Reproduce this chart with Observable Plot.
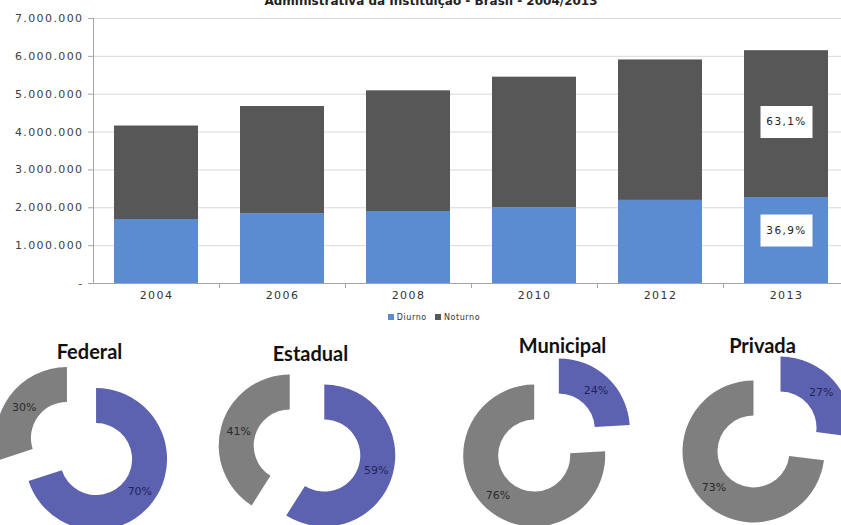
<!DOCTYPE html>
<html><head><meta charset="utf-8">
<script src="https://cdn.jsdelivr.net/npm/d3@7"></script>
<script src="https://cdn.jsdelivr.net/npm/@observablehq/plot@0.6"></script>
<style>
html,body{margin:0;padding:0;background:#fff;overflow:hidden;width:841px;height:525px}
#root{position:relative;width:841px;height:525px;overflow:hidden;background:#fff}
#title{position:absolute;top:-6px;left:0;width:862px;text-align:center;font:bold 12px "DejaVu Sans";color:#222;white-space:nowrap;line-height:14px}
#bars{position:absolute;top:0;left:0;width:849px}
#bars svg{max-width:none !important}
#legend{position:absolute;top:312px;left:0;width:868px;text-align:center;font:8px "DejaVu Sans";color:#333;letter-spacing:0.6px;line-height:12px}
#legend span.sw{display:inline-block;width:6px;height:6px;margin-right:3px;vertical-align:0px}
#legend span.it{margin:0 4px}
#donuts{position:absolute;top:330px;left:0}
</style></head>
<body><div id="root">
<div id="bars"></div>
<div id="title">Administrativa da Instituição - Brasil - 2004/2013</div>
<div id="legend"></div>
<div id="donuts"></div>
</div>
<script>
// ---- data ----
const years = ["2004","2006","2008","2010","2012","2013"];
const diurno = [1690000,1845000,1900000,2000000,2195000,2270000];
const noturno = [2470000,2830000,3190000,3450000,3710000,3880000];
const series = ["Diurno","Noturno"];
const yTicks = [0,1000000,2000000,3000000,4000000,5000000,6000000,7000000];
const labels2013 = ["36,9%","63,1%"];

const sectors = ["Federal","Estadual","Municipal","Privada"];
const diurnoPct = [70,59,24,27];
const noturnoPct = [30,41,76,73];

// ---- layout / style ----
const barColors = ["#5B8BD1","#575757"];
const donutColors = ["#5C62B0","#7F7F7F"];
const donutLabelColors = ["#23235a","#2a2a2a"];
const donutCenters = [[81.5,118.5],[307,120.5],[546.5,112.5],[767,109.5]];
const titlePos = [[89,28],[310,30],[562,22],[762,22]];
const explode = 18, rIn = 36, rOut = 71;

const W = 849, ML = 93, MT = 18, MB = 22, H = 305;
const step = (W - ML) / years.length;

const barData = years.flatMap((year, i) => [
  {year, series: "Diurno", value: diurno[i]},
  {year, series: "Noturno", value: noturno[i]}
]);
const last = years.length - 1;
const labelData = series.map((s, j) => ({
  year: years[last], series: s, value: (j === 0 ? diurno : noturno)[last], text: labels2013[j]
}));

const fmt = d => d === 0 ? "-" : d3.format(",")(d).replace(/,/g, ".");
const boxSymbol = {draw(ctx) { ctx.rect(-26, -16, 52, 32); }};

const labelMarks = (s, dy) => {
  const opts = {x: "year", y: "value", dy};
  return [
    Plot.dot(labelData, Plot.filter(d => d.series === s, Plot.stackY({...opts, symbol: boxSymbol, fill: "white", stroke: "none", r: 5}))),
    Plot.text(labelData, Plot.filter(d => d.series === s, Plot.stackY({...opts, text: "text", fill: "#222", fontSize: 10.5, letterSpacing: "0.3px"})))
  ];
};

const bars = Plot.plot({
  width: W, height: H, marginLeft: ML, marginRight: 0, marginTop: MT, marginBottom: MB,
  style: {fontFamily: "DejaVu Sans", fontSize: "11px", letterSpacing: "1.4px", background: "white", overflow: "visible", maxWidth: "none"},
  x: {domain: years, paddingInner: 1/3, paddingOuter: 1/6},
  y: {domain: [0, 7000000]},
  color: {domain: series, range: barColors},
  marks: [
    Plot.gridY(yTicks.slice(1), {stroke: "#D9D9D9", strokeOpacity: 1}),
    Plot.barY(barData, {x: "year", y: "value", fill: "series"}),
    Plot.ruleY([0], {stroke: "#A6A6A6"}),
    Plot.ruleX(years.slice(1), {x: d => d, dx: -step / 2, y1: 0, y2: 0, insetTop: 5, stroke: "#A6A6A6"}),
    Plot.frame({anchor: "left", stroke: "#A6A6A6"}),
    Plot.axisY({ticks: yTicks, tickFormat: fmt, tickSize: 5, tickPadding: 5, stroke: "#A6A6A6", fill: "#404040", label: null}),
    Plot.axisX({tickSize: 0, tickPadding: 8, fill: "#333", label: null}),
    ...labelMarks("Noturno", -2),
    ...labelMarks("Diurno", -10)
  ]
});
document.getElementById("bars").appendChild(bars);

document.getElementById("legend").innerHTML = series.map((s, j) =>
  `<span class="it"><span class="sw" style="background:${barColors[j]}"></span>${s}</span>`).join("");

// ---- donuts ----
const arc = d3.arc().innerRadius(rIn).outerRadius(rOut);
const slices = sectors.flatMap((s, i) => {
  const [cx, cy] = donutCenters[i];
  const pie = d3.pie().sort(null)([diurnoPct[i], noturnoPct[i]]);
  return pie.map((p, j) => {
    const m = (p.startAngle + p.endAngle) / 2;
    const tx = cx + explode * Math.sin(m), ty = cy - explode * Math.cos(m);
    const [lx, ly] = arc.centroid(p);
    return {sector: s, j, p, tx, ty, lx: tx + lx, ly: ty + ly, text: p.data + "%"};
  });
});

function donutArcs(index, scales, values, dimensions, context) {
  const g = d3.create("svg:g");
  for (const d of slices) {
    g.append("path").attr("d", arc(d.p))
      .attr("transform", `translate(${scales.x(d.tx)},${scales.y(d.ty)})`)
      .attr("fill", donutColors[d.j]);
  }
  return g.node();
}

const titles = sectors.map((s, i) => ({text: s, x: titlePos[i][0], y: titlePos[i][1]}));

const donuts = Plot.plot({
  width: 841, height: 195, margin: 0,
  style: {background: "transparent", overflow: "visible", maxWidth: "none"},
  x: {type: "identity", axis: null},
  y: {type: "identity", axis: null},
  marks: [
    donutArcs,
    Plot.text(slices, {x: "lx", y: "ly", text: "text", fill: d => donutLabelColors[d.j], fontFamily: "DejaVu Sans", fontSize: 11}),
    Plot.text(titles, {x: "x", y: "y", text: "text", lineAnchor: "bottom", fontFamily: "Lato", fontWeight: "bold", fontSize: 20, fill: "#111"})
  ]
});
document.getElementById("donuts").appendChild(donuts);
</script>
</body></html>
